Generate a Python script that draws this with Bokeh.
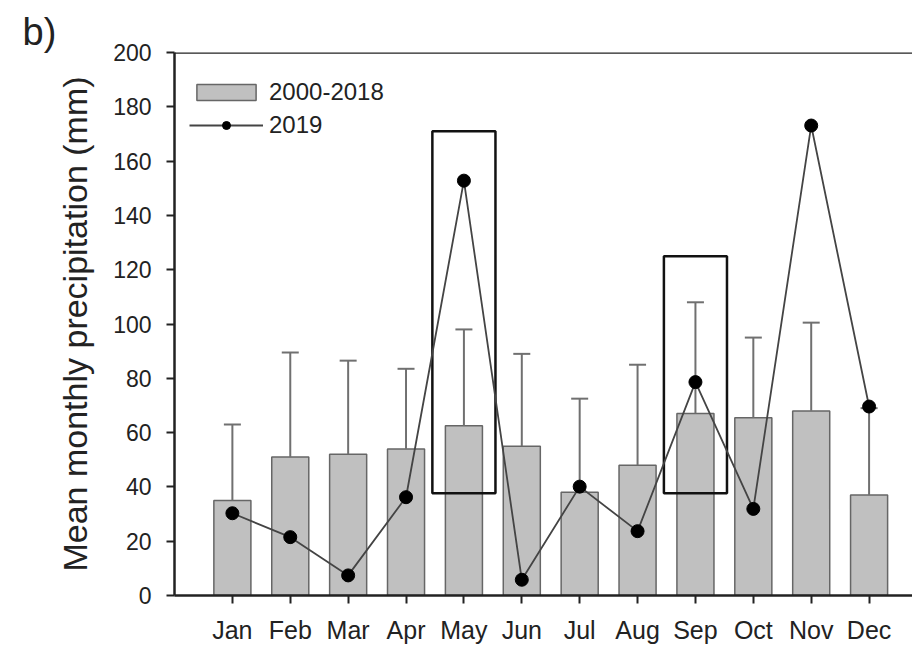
from bokeh.plotting import figure
from bokeh.models import Range1d, FixedTicker, Legend, LegendItem, Span
from bokeh.embed import file_html
from bokeh.resources import INLINE

# ---- data ----
months = ["Jan", "Feb", "Mar", "Apr", "May", "Jun", "Jul", "Aug", "Sep", "Oct", "Nov", "Dec"]
month_pos = [1, 2, 3, 4, 5, 6, 7, 8, 9, 10, 11, 12]
mean_2000_2018 = [35, 51, 52, 54, 62.5, 55, 38, 48, 67, 65.5, 68, 37]
upper_err = [63, 89.5, 86.5, 83.5, 98, 89, 72.5, 85, 108, 95, 100.5, 69]
precip_2019 = [30.3, 21.5, 7.4, 36.2, 152.8, 5.8, 40.1, 23.7, 78.6, 31.9, 173.1, 69.6]
highlight_months = [5, 9]
highlight_low = [37.7, 37.7]
highlight_high = [171, 125]
y_ticks = [0, 20, 40, 60, 80, 100, 120, 140, 160, 180, 200]

FONT = "Liberation Sans"

p = figure(width=912, height=647, output_backend="svg", toolbar_location=None,
           x_range=Range1d(0, 12.75), y_range=Range1d(0, 200),
           min_border_left=174, min_border_right=0, min_border_top=52, min_border_bottom=52)
p.outline_line_color = None
p.xgrid.grid_line_color = None
p.ygrid.grid_line_color = None
p.background_fill_color = "white"

# panel letter as title
p.title.text = "b)"
p.title.align = "left"
p.title.offset = -152
p.title.standoff = 0
p.title.text_font = FONT
p.title.text_font_size = "38px"
p.title.text_font_style = "normal"
p.title.text_color = "#222222"

# bars
bars = p.vbar(x=month_pos, top=mean_2000_2018, bottom=0, width=0.64,
              fill_color="#c0c0c0", line_color="#666666", line_width=1.5)

# error bars (upper only)
p.segment(x0=month_pos, y0=mean_2000_2018, x1=month_pos, y1=upper_err,
          line_color="#707070", line_width=2)
p.scatter(x=month_pos, y=upper_err, marker="dash", size=17,
          line_color="#707070", line_width=2)

# highlight boxes
half_w = 0.545
p.quad(left=[m - half_w for m in highlight_months], right=[m + half_w for m in highlight_months],
       bottom=highlight_low, top=highlight_high,
       fill_color=None, line_color="#111111", line_width=2.5)

# 2019 line
line_r = p.line(x=month_pos, y=precip_2019, line_color="#444444", line_width=1.8)
circ_r = p.scatter(x=month_pos, y=precip_2019, marker="circle", size=13,
                   fill_color="black", line_color="black")

# top border
p.add_layout(Span(location=200, dimension="width", line_color="#222222", line_width=2.5))

# axes
p.xaxis.ticker = FixedTicker(ticks=month_pos)
p.xaxis.major_label_overrides = {m: lab for m, lab in zip(month_pos, months)}
p.xaxis.major_label_text_font = FONT
p.xaxis.major_label_text_font_size = "25px"
p.xaxis.major_label_text_color = "#222222"
p.xaxis.major_label_standoff = 12
p.xaxis.minor_tick_line_color = None
p.xaxis.major_tick_in = 0
p.xaxis.major_tick_out = 8
p.xaxis.major_tick_line_width = 2
p.xaxis.major_tick_line_color = "#222222"
p.xaxis.axis_line_width = 2.5
p.xaxis.axis_line_color = "#222222"

p.yaxis.ticker = FixedTicker(ticks=y_ticks)
p.yaxis.major_label_text_font = FONT
p.yaxis.major_label_text_font_size = "23px"
p.yaxis.major_label_text_color = "#222222"
p.yaxis.major_label_standoff = 15
p.yaxis.minor_tick_line_color = None
p.yaxis.major_tick_in = 0
p.yaxis.major_tick_out = 8
p.yaxis.major_tick_line_width = 2
p.yaxis.major_tick_line_color = "#222222"
p.yaxis.axis_line_width = 2.5
p.yaxis.axis_line_color = "#222222"
p.yaxis.axis_label = "Mean monthly precipitation (mm)"
p.yaxis.axis_label_text_font = FONT
p.yaxis.axis_label_text_font_size = "34px"
p.yaxis.axis_label_text_font_style = "normal"
p.yaxis.axis_label_text_color = "#222222"
p.yaxis.axis_label_standoff = 16

# legend
legend = Legend(items=[LegendItem(label="2000-2018", renderers=[bars]),
                       LegendItem(label="2019", renderers=[line_r, circ_r])],
                location=(15, 456))
legend.glyph_width = 74
legend.glyph_height = 20
legend.label_height = 28
legend.spacing = 5
legend.padding = 0
legend.margin = 0
legend.label_standoff = 6
legend.border_line_color = None
legend.background_fill_alpha = 0
legend.label_text_font = FONT
legend.label_text_font_size = "24px"
legend.label_text_color = "#222222"
p.add_layout(legend)

open("out.html", "w").write(file_html(p, INLINE))
